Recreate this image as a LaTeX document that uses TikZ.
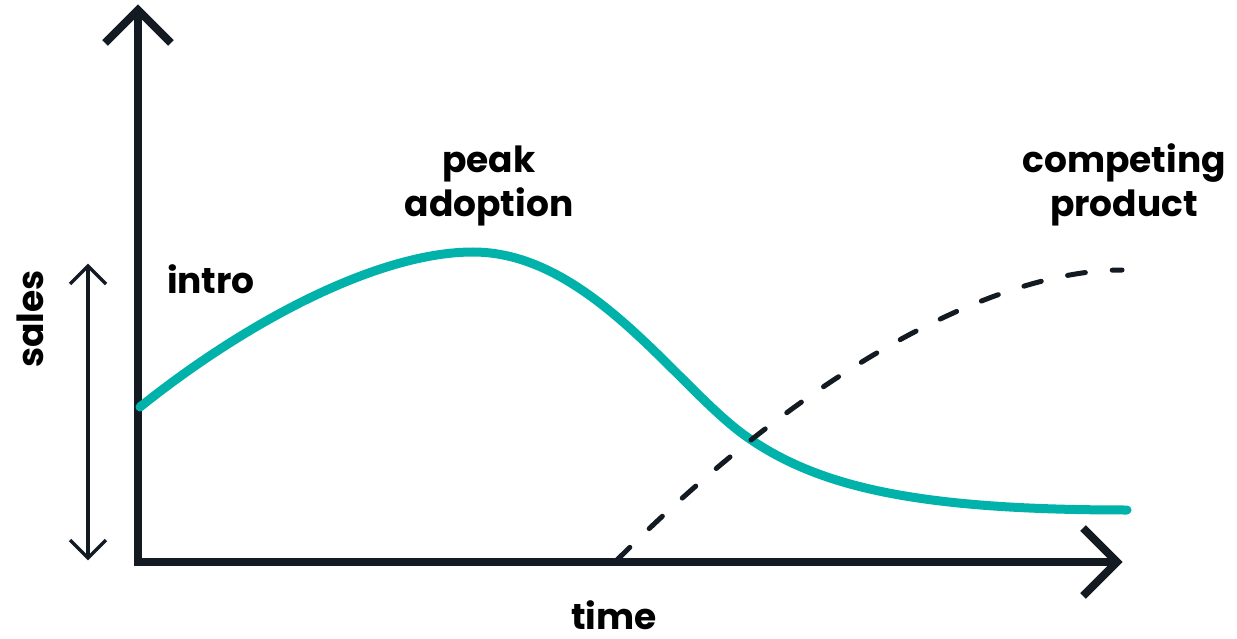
\documentclass[tikz,border=0pt]{standalone}
\usepackage{fontspec}
\setmainfont{Poppins}
\definecolor{ink}{HTML}{131A22}
\definecolor{teal}{HTML}{00B2A9}
\begin{document}
\begin{tikzpicture}[x=1pt,y=-1pt,
  axis/.style={draw=ink,line width=8pt,line join=miter,line cap=butt},
  thinax/.style={draw=ink,line width=3.2pt,line join=miter},
  lab/.style={inner sep=0pt,text=black,font=\fontsize{36}{44}\selectfont\bfseries,align=center},
  salescurve/.style={draw=teal,line width=9pt,line cap=round},
  compcurve/.style={draw=ink,line width=5pt,line cap=round,dash pattern=on 18pt off 27pt}]
\useasboundingbox (0,0) rectangle (1237,639);
% axes
\coordinate (top) at (138,10);
\coordinate (origin) at (138,562);
\coordinate (right) at (1117,562);
\draw[axis] (top) -- (origin) -- (right);
\draw[axis] ([shift={(-33,33)}]top) -- (top) -- ([shift={(33,33)}]top);
\draw[axis] ([shift={(-34,-34)}]right) -- (right) -- ([shift={(-34,34)}]right);
% sales double arrow
\coordinate (stop) at (88,266);
\coordinate (sbot) at (88,558);
\draw[thinax] (stop) -- (sbot);
\draw[thinax] ([shift={(-18,18)}]stop) -- (stop) -- ([shift={(18,18)}]stop);
\draw[thinax] ([shift={(-18,-18)}]sbot) -- (sbot) -- ([shift={(18,-18)}]sbot);
% curves
\coordinate (a0) at (140,407);
\coordinate (peak) at (473,252);
\coordinate (cross) at (747,437);
\coordinate (a3) at (1127,510);
\draw[salescurve] (a0) .. controls (250,319) and (380,252) .. (peak)
  .. controls (590,252) and (677,388) .. (cross)
  .. controls (820,488) and (920,510) .. (a3);
\coordinate (b0) at (617,560);
\coordinate (b1) at (1122,270);
\draw[compcurve] (b0) .. controls (817,360) and (1002,270) .. (b1);
% labels
\node[lab,anchor=base] (intro) at (211,293) {intro};
\node[lab,anchor=base] (peaklab) at (489,217) {peak\\adoption};
\node[lab,anchor=base] (complab) at (1124,217) {competing\\product};
\node[lab,anchor=base,text depth=0pt] (timelab) at (614,629) {time};
\node[lab,anchor=base,rotate=90] (saleslab) at (43,319) {sales};
\end{tikzpicture}
\end{document}
